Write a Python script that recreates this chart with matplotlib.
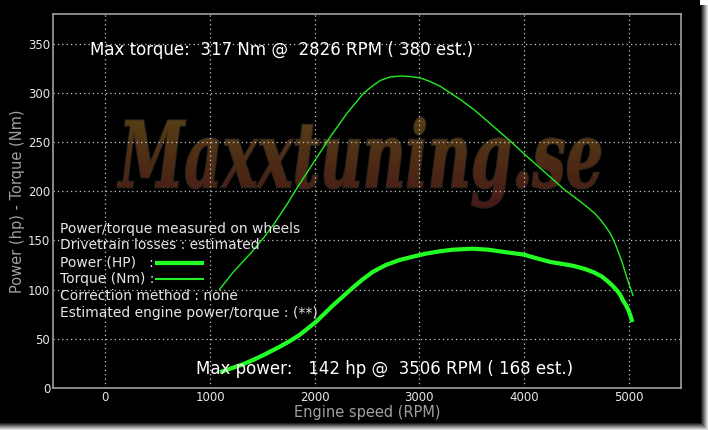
import numpy as np
import matplotlib
matplotlib.use("Agg")
from matplotlib import pyplot as plt
from matplotlib.textpath import TextPath
from matplotlib.font_manager import FontProperties
from matplotlib.patches import PathPatch, Rectangle
from matplotlib.transforms import Affine2D

# torque curve (rpm, Nm)
torque_rpm = [1090, 1224, 1381, 1508, 1600, 1670, 1750, 1830, 1989, 2148, 2308, 2467,
              2560, 2627, 2720, 2818, 2910, 3010, 3100, 3201, 3392, 3520, 3635, 3873,
              4000, 4127, 4260, 4381, 4500, 4603, 4680, 4730, 4780, 4825, 4870, 4905,
              4940, 4968, 5005, 5041]
torque_nm = [100, 118, 136, 152, 165, 176, 189, 203, 229, 255, 279, 299.5,
             307.5, 312.5, 316, 317, 316.5, 315, 311.5, 306.5, 293, 283, 272.5, 250.5,
             238, 226, 213.5, 202, 192.5, 184, 177, 171, 164, 157, 147, 137,
             127, 117, 105, 94]

# power curve (rpm, hp)
power_rpm = [1095, 1175, 1300, 1413, 1540, 1667, 1760, 1857, 2016, 2175, 2270, 2365,
             2460, 2556, 2680, 2810, 2940, 3063, 3190, 3317, 3506, 3660, 3825, 4000,
             4130, 4254, 4370, 4476, 4580, 4667, 4740, 4794, 4845, 4889, 4920, 4946,
             4975, 5000, 5020, 5035]
power_hp = [16, 19, 23.5, 28.5, 35, 42, 47.5, 54, 67.5, 84, 93, 102,
            110.5, 118, 125, 130, 133.5, 136.5, 138.8, 140.5, 141.5, 140.5, 138, 135.5,
            131.5, 128, 126, 124, 121, 117.5, 113.5, 109, 104, 99, 94.5, 89,
            84, 78.5, 72.5, 67]

xticks = [0, 1000, 2000, 3000, 4000, 5000]
yticks = [0, 50, 100, 150, 200, 250, 300, 350]

legend_lines = ["Power/torque measured on wheels",
                "Drivetrain losses : estimated",
                "Power (HP)   :",
                "Torque (Nm) :",
                "Correction method : none",
                "Estimated engine power/torque : (**)"]

max_torque_txt = "Max torque:  317 Nm @  2826 RPM ( 380 est.)"
max_power_txt = "Max power:   142 hp @  3506 RPM ( 168 est.)"

W, H = 708, 430
fig = plt.figure(figsize=(W / 100, H / 100), dpi=100, facecolor="white")

# background panel with a soft shadow on the right / bottom
bg = fig.add_axes([0, 0, 1, 1])
bg.set_xlim(0, W)
bg.set_ylim(H, 0)
bg.axis("off")
for i in range(8):
    g = 0.0 + i / 8.0
    c = (g, g, g)
    bg.add_patch(Rectangle((700 + i, 5), 1, 425, color=c, lw=0))
    bg.add_patch(Rectangle((0, 422 + i), 708, 1, color=c, lw=0))
bg.add_patch(Rectangle((0, 0), 700, 422, color="black", lw=0))

ax = fig.add_axes([53 / W, 1 - 388 / H, (681 - 53) / W, (388 - 14) / H])
ax.set_facecolor("black")
ax.set_xlim(-500, 5500)
ax.set_ylim(0, 380)
ax.set_xticks(xticks)
ax.set_yticks(yticks)
ax.grid(True, color="#c8c8c8", linestyle=(0, (1, 2.5)), linewidth=0.9)
for s in ax.spines.values():
    s.set_color("#a0a0a0")
    s.set_linewidth(1.2)
ax.tick_params(colors="#e8e8e8", labelsize=8.5, length=0, pad=2)
ax.set_xlabel("Engine speed (RPM)", color="#a0a0a0", fontsize=10.5, labelpad=1)
ax.set_ylabel("Power (hp) - Torque (Nm)", color="#a0a0a0", fontsize=10.5, labelpad=2)

# watermark with a vertical gradient clipped to the text outline
fp = FontProperties(family="DejaVu Serif", weight="bold", style="italic")
tp = TextPath((0, 0), "Maxxtuning.se", size=1, prop=fp)
ext = tp.get_extents()
cap = TextPath((0, 0), "M", size=1, prop=fp).get_extents()
x0, x1 = 115, 4732
y_base, cap_h = 204, 68
sx = (x1 - x0) / ext.width
sy = cap_h / cap.height
tr = Affine2D().translate(-ext.x0, 0).scale(sx, sy).translate(x0, y_base)
wpath = tr.transform_path(tp)
patch = PathPatch(wpath, facecolor="none", edgecolor="#262320", lw=1.5,
                  transform=ax.transData, zorder=1)
ax.add_patch(patch)
top_c = np.array([0x56, 0x40, 0x14]) / 255
bot_c = np.array([0x46, 0x14, 0x16]) / 255
t = np.linspace(0, 1, 64)[:, None]
grad = (bot_c[None, :] * (1 - t) + top_c[None, :] * t)[:, None, :]
im = ax.imshow(grad, extent=[x0 - 200, x1 + 300, y_base - 30, y_base + cap_h + 5],
               origin="lower", aspect="auto", zorder=1, interpolation="bilinear")
im.set_clip_path(PathPatch(wpath, transform=ax.transData))
ax.set_xlim(-500, 5500)
ax.set_ylim(0, 380)

ax.plot(torque_rpm, torque_nm, color="#22ee22", lw=1.0, zorder=3,
        solid_joinstyle="round")
ax.plot(power_rpm, power_hp, color="#22ff22", lw=3.0, zorder=3,
        solid_capstyle="butt", solid_joinstyle="round")

# annotation texts
fig.text(90 / W, 1 - 50 / H, max_torque_txt, color="white", fontsize=12,
         ha="left", va="center")
fig.text(196 / W, 1 - 369 / H, max_power_txt, color="white", fontsize=12,
         ha="left", va="center", zorder=5)

ys = [229, 245, 263, 279, 296, 313]
for txt, y in zip(legend_lines, ys):
    fig.text(60 / W, 1 - y / H, txt, color="#e6e6e6", fontsize=10,
             ha="left", va="center")
bg2 = fig.add_axes([0, 0, 1, 1], facecolor="none")
bg2.set_xlim(0, W)
bg2.set_ylim(H, 0)
bg2.axis("off")
bg2.plot([155, 204], [263, 263], color="#22ff22", lw=3.0, solid_capstyle="butt")
bg2.plot([155, 204], [279, 279], color="#22ee22", lw=1.5, solid_capstyle="butt")

fig.savefig("out.png", dpi=100, facecolor=fig.get_facecolor())
